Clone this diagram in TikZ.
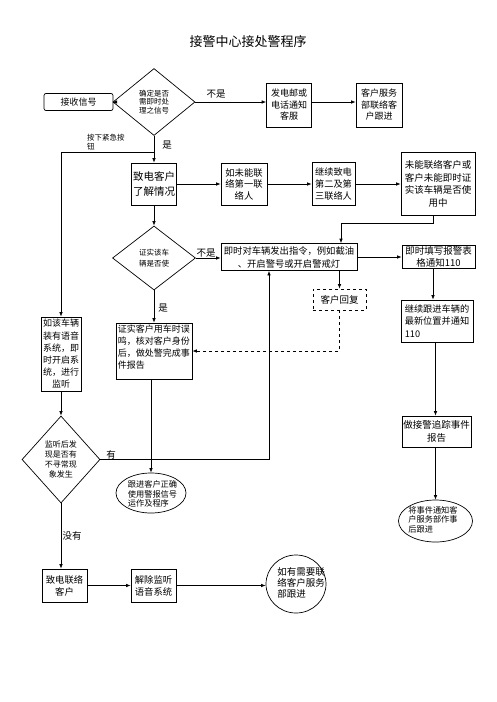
\documentclass[tikz,border=0pt]{standalone}
\usepackage{fontspec}
\setmainfont{Noto Sans CJK SC}
\usetikzlibrary{shapes.geometric,arrows.meta}
\newcommand\fsz[2]{\fontsize{#1}{#2}\selectfont}
\tikzset{
  every node/.style={inner sep=0pt},
  box/.style={draw, line width=0.7pt, align=center, inner sep=1pt},
  dbox/.style={box, dashed},
  dia/.style={diamond, draw, line width=0.7pt, align=center, inner sep=0pt},
  ell/.style={ellipse, draw, line width=0.7pt, inner sep=0pt},
  arr/.style={-{Latex[length=4.5pt,width=3.5pt]}, line width=0.7pt},
  lbl/.style={font=\fsz{9.5}{11}},
}
\begin{document}
\begin{tikzpicture}[x=1pt,y=-1pt]
\useasboundingbox[fill=white] (0,0) rectangle (496,702);

\node[font=\fsz{13}{15}] (title) at (248,42) {接警中心接处警程序};

% row 1
\node[box, rounded corners=2pt, minimum width=69, minimum height=17, font=\fsz{9}{10}] (recv) at (78.5,102) {接收信号};
\node[dia, minimum width=82, minimum height=67, font=\fsz{7.5}{8.5}] (d1) at (154,102) {确定是否\\需即时处\\理之信号};
\node[box, minimum width=45, minimum height=44, font=\fsz{9}{11.5}] (notify) at (289,105) {发电邮或\\电话通知\\客服};
\node[box, minimum width=46, minimum height=44, font=\fsz{9}{11.5}] (cs1) at (379,105) {客户服务\\部联络客\\户跟进};

% row 2
\node[box, minimum width=45, minimum height=42, font=\fsz{10.5}{15}] (call1) at (154,184) {致电客户\\了解情况};
\node[box, minimum width=46, minimum height=42, font=\fsz{9.3}{11.5}] (c1) at (244,184) {如未能联\\络第一联\\络人};
\node[box, minimum width=43, minimum height=43, font=\fsz{9.2}{12}] (c2) at (333.5,184) {继续致电\\第二及第\\三联络人};
\node[box, minimum width=74, minimum height=63, font=\fsz{9.5}{12.5}] (c3) at (438,184) {未能联络客户或\\客户未能即时证\\实该车辆是否使\\用中};

% row 3
\node[dia, minimum width=83, minimum height=64, font=\fsz{7.5}{11}] (d2) at (154,258) {证实该车\\辆是否使};
\node[box, minimum width=136, minimum height=27, font=\fsz{9.3}{13}] (cmd) at (289,257) {即时对车辆发出指令，例如截油\\、开启警号或开启警戒灯};
\node[box, minimum width=73, minimum height=23, font=\fsz{9.5}{12}] (form) at (438.5,257) {即时填写报警表\\格通知110};
\node[dbox, minimum width=53, minimum height=21, font=\fsz{9.5}{11}] (reply) at (339.5,299.5) {客户回复};

% middle
\node[box, minimum width=76, minimum height=56] (confirm) at (154,351) {};
\node[anchor=north west, align=left, font=\fsz{9}{11.8}] (confirmt) at ([shift={(2,2.5)}]confirm.north west) {证实客户用车时误\\鸣，核对客户身份\\后，做处警完成事\\件报告};
\node[box, minimum width=72, minimum height=42, align=left, font=\fsz{9.2}{12.5}] (follow) at (437,321) {继续跟进车辆的\\最新位置并通知\\110};
\node[box, minimum width=69, minimum height=31, font=\fsz{9.5}{13}] (report) at (436.5,431.5) {做接警追踪事件\\报告};
\node[ell, minimum width=74, minimum height=42] (ell2) at (435.5,521) {};
\node[align=left, font=\fsz{8.2}{9.6}] (ell2t) at (433,519.5) {将事件通知客\\户服务部作事\\后跟进};

\node[box, minimum width=40, minimum height=74, font=\fsz{9}{12.2}] (listen) at (61,354) {如该车辆\\装有语音\\系统，即\\时开启系\\统，进行\\监听};
\node[dia, minimum width=78, minimum height=87, font=\fsz{8}{10}] (d3) at (61,459.5) {监听后发\\现是否有\\不寻常现\\象发生};
\node[ell, minimum width=70, minimum height=40] (ell1) at (151,493) {};
\node[align=left, font=\fsz{8.2}{9.6}] (ell1t) at (152.5,494) {跟进客户正确\\使用警报信号\\运作及程序};

% bottom
\node[box, minimum width=45, minimum height=33, font=\fsz{9.3}{12}] (callc) at (64.5,585.5) {致电联络\\客户};
\node[box, minimum width=45, minimum height=33, font=\fsz{9.3}{12}] (unl) at (153.5,585.5) {解除监听\\语音系统};
\node[ell, minimum width=60, minimum height=58] (circ) at (296,584) {};
\node[align=left, font=\fsz{9.5}{11}] (circt) at (301,583) {如有需要联\\络客户服务\\部跟进};

% labels
\node[lbl] (l1) at (216,94) {不是};
\node[lbl] (l2) at (167,145) {是};
\node[anchor=north west, align=left, font=\fsz{7.5}{9}] (l3) at (87,133.5) {按下紧急按\\钮};
\node[lbl] (l4) at (206,253) {不是};
\node[lbl] (l5) at (163,308) {是};
\node[lbl] (l6) at (111,455) {有};
\node[lbl] (l7) at (72,536) {没有};

% coordinates
\coordinate (br) at (154,152);
\coordinate (k1) at (433,223);
\coordinate (k2) at (341,223);
\coordinate (k3) at (339.5,351);
\coordinate (k4) at (269,459.5);

% connectors
\draw[arr] (recv) -- (d1);
\draw[arr] (d1.east) -- (d1.east -| notify.west);
\draw[arr] (notify.east |- d1.east) -- (cs1.west |- d1.east);
\draw[arr] (d1.south) -- (d1.south |- call1.north);
\draw[arr] (br) -| (listen.north);
\draw[arr] (call1) -- (c1);
\draw[arr] (c1) -- (c2);
\draw[arr] (c2) -- (c3);
\draw[arr] (k1 |- c3.south) -- (k1) -- (k2) -- (k2 |- cmd.north);
\draw[arr] (call1.south) -- (d2.north);
\draw[arr] (d2.east) -- (d2.east -| cmd.west);
\draw[arr] (cmd.east) -- (cmd.east -| form.west);
\draw[arr] (cmd.south -| reply.north) -- (reply.north);
\draw[arr, dashed] (reply.south) -- (k3) -- (k3 -| confirm.east);
\draw[arr] (k1 |- form.south) -- (k1 |- follow.north);
\draw[arr] (follow.south -| ell2.north) -- (report.north -| ell2.north);
\draw[arr] (report.south -| ell2.north) -- (ell2.north);
\draw[arr] (d2.south) -- (confirm.north);
\draw[arr] (confirm.south -| ell1.north) -- (ell1.north);
\draw[arr] (listen.south) -- (d3.north);
\draw[arr] (d3.east) -- (k4) -- (k4 |- cmd.south);
\draw[arr] (d3.south) -- (callc.north -| d3.south);
\draw[arr] (callc) -- (unl);
\draw[arr] (unl.east) -- (unl.east -| circ.west);
\end{tikzpicture}
\end{document}
